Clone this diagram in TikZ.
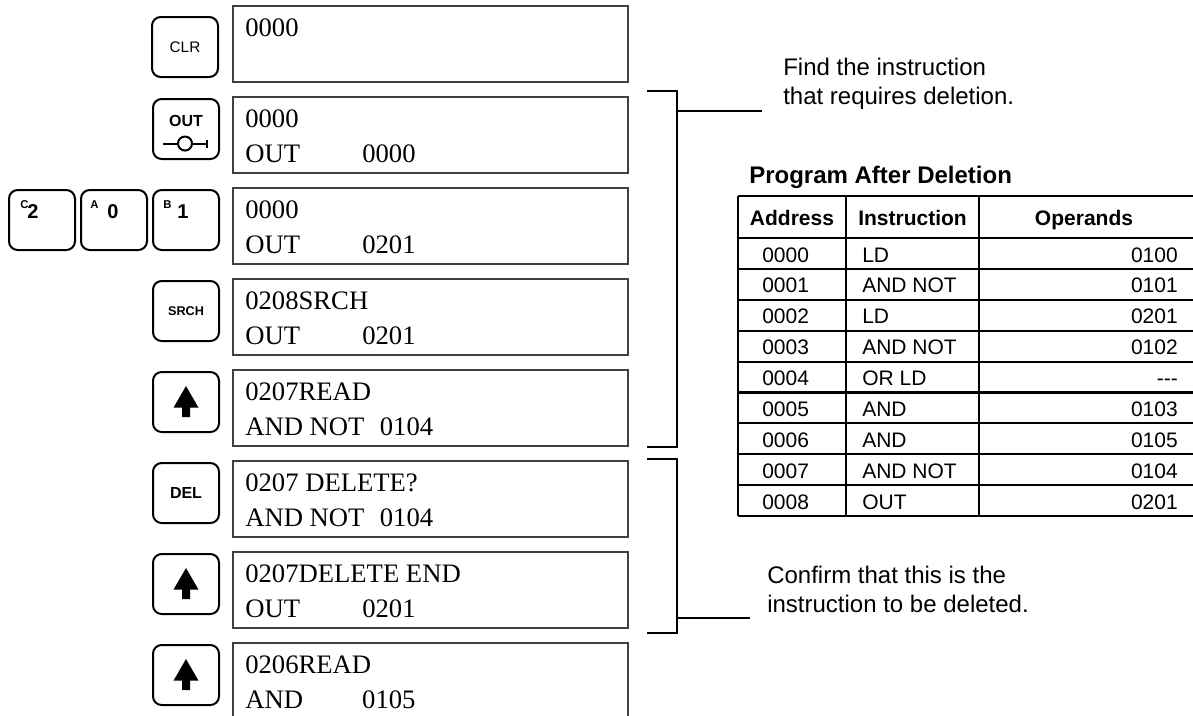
\documentclass[tikz,border=0pt]{standalone}
\usepackage{fontspec}
\setmainfont{Liberation Sans}
\newfontfamily\lcdfont{Liberation Serif}
\usetikzlibrary{positioning}
\newcommand{\lcdcol}[3][87.75pt]{\makebox[#1][l]{#2}#3}
\newcommand{\lcdrows}[3]{%
  \node[lcdtext] (#1top) at ([xshift=9pt,yshift=-22.5pt]#1.north west) {#2};
  \node[lcdtext] (#1bot) at ([xshift=9pt,yshift=-48.75pt]#1.north west) {#3};}
\tikzset{
  keycap/.style={draw,line width=1.5pt,rounded corners=6.5pt,minimum width=49.5pt,
    minimum height=45pt,inner sep=0pt,outer sep=0pt},
  keytext/.style={font=\fontsize{11.5}{13}\selectfont},
  keybold/.style={font=\bfseries\fontsize{12}{14}\selectfont},
  supkey/.style={anchor=north west,inner sep=0pt,font=\bfseries\fontsize{8.5}{10}\selectfont},
  digkey/.style={anchor=base west,inner sep=0pt,font=\bfseries\fontsize{15}{17}\selectfont},
  lcd/.style={draw=black!75,line width=0.8pt,minimum width=296.25pt,minimum height=57pt,
    inner sep=0pt,outer sep=0pt},
  lcdtext/.style={anchor=base west,inner sep=0pt,font=\lcdfont\fontsize{20}{24}\selectfont},
  note/.style={align=left,anchor=base west,inner sep=0pt,font=\fontsize{18}{21.75}\selectfont},
  tabtext/.style={inner sep=0pt,font=\fontsize{15.75}{18}\selectfont},
  tabhead/.style={inner sep=0pt,anchor=base,font=\bfseries\fontsize{15.75}{18}\selectfont},
  rule/.style={line width=1.6pt},
  bracket/.style={line width=1.5pt},
  uparrow/.pic={\fill[line join=round] (0pt,12pt) -- (9.4pt,-4.3pt) -- (3pt,-4.3pt)
    -- (3pt,-11.25pt) -- (-3pt,-11.25pt) -- (-3pt,-4.3pt) -- (-9.4pt,-4.3pt) -- cycle;},
  outsym/.pic={\draw[line width=1.5pt] (-17.25pt,0pt) -- (-6pt,0pt)
    (4.5pt,0pt) -- (15.75pt,0pt) (15.75pt,-3pt) -- (15.75pt,3pt);
    \draw[line width=1.5pt] (-0.75pt,0pt) circle (5.25pt);}
}
\begin{document}
\begin{tikzpicture}[x=0.75pt,y=-0.75pt,node distance=11.25pt]
  \useasboundingbox (0,0) rectangle (1193,715);
  % display column
  \node[lcd,anchor=north west] (d1) at (233,6) {};
  \node[lcd,below=of d1] (d2) {};
  \node[lcd,below=of d2] (d3) {};
  \node[lcd,below=of d3] (d4) {};
  \node[lcd,below=of d4] (d5) {};
  \node[lcd,below=of d5] (d6) {};
  \node[lcd,below=of d6] (d7) {};
  \node[lcd,below=of d7] (d8) {};
  \lcdrows{d1}{0000}{}
  \lcdrows{d2}{0000}{\lcdcol{OUT}{0000}}
  \lcdrows{d3}{0000}{\lcdcol{OUT}{0201}}
  \lcdrows{d4}{0208SRCH}{\lcdcol{OUT}{0201}}
  \lcdrows{d5}{0207READ}{\lcdcol[101pt]{AND NOT}{0104}}
  \lcdrows{d6}{0207 DELETE?}{\lcdcol[101pt]{AND NOT}{0104}}
  \lcdrows{d7}{0207DELETE END}{\lcdcol{OUT}{0201}}
  \lcdrows{d8}{0206READ}{\lcdcol{AND}{0105}}

  % keys
  \node[keycap,keytext,anchor=north west] (kclr) at (152,17) {CLR};
  \node[keycap,anchor=north east] (kout) at ([xshift=-10.5pt,yshift=-1.5pt]d2.north west) {};
  \node[keybold,inner sep=0pt,anchor=base] (koutl) at ([yshift=1.9pt]kout.center) {OUT};
  \pic at ([yshift=-10.9pt]kout.center) {outsym};
  \node[keycap,anchor=north east] (kb) at ([xshift=-10.5pt,yshift=-1.5pt]d3.north west) {};
  \node[keycap,left=4.5pt of kb] (ka) {};
  \node[keycap,left=4.5pt of ka] (kc) {};
  \node[supkey] (kcs) at ([xshift=8.25pt,yshift=-7.5pt]kc.north west) {C};
  \node[digkey] (kcd) at ([xshift=13.5pt,yshift=-21.4pt]kc.north west) {2};
  \node[supkey] (kas) at ([xshift=6.75pt,yshift=-7.5pt]ka.north west) {A};
  \node[digkey] (kad) at ([xshift=19.5pt,yshift=-21.4pt]ka.north west) {0};
  \node[supkey] (kbs) at ([xshift=7.5pt,yshift=-7.5pt]kb.north west) {B};
  \node[digkey] (kbd) at ([xshift=18pt,yshift=-21.4pt]kb.north west) {1};
  \node[keycap,anchor=north east,font=\bfseries\fontsize{9.5}{11}\selectfont] (ksrch)
    at ([xshift=-10.5pt,yshift=-1.5pt]d4.north west) {SRCH};
  \node[keycap,anchor=north east] (kup1) at ([xshift=-10.5pt,yshift=-1.5pt]d5.north west) {};
  \pic at (kup1.center) {uparrow};
  \node[keycap,keybold,anchor=north east] (kdel) at ([xshift=-10.5pt,yshift=-1.5pt]d6.north west) {DEL};
  \node[keycap,anchor=north east] (kup2) at ([xshift=-10.5pt,yshift=-1.5pt]d7.north west) {};
  \pic at (kup2.center) {uparrow};
  \node[keycap,anchor=north east] (kup3) at ([xshift=-10.5pt,yshift=-1.5pt]d8.north west) {};
  \pic at (kup3.center) {uparrow};

  % brackets and notes
  \node[note] (find) at (783,104) {Find the instruction\\that requires deletion.};
  \node[note] (confirm) at (767,612) {Confirm that this is the\\instruction to be deleted.};
  \coordinate (f1) at (647,91);
  \coordinate (f2) at (647,447);
  \coordinate (ftick) at (762,111);
  \draw[bracket] (f1) -- ++(30,0) |- (f2);
  \draw[bracket] (677,111) -- (ftick);
  \coordinate (c1) at (647,459);
  \coordinate (c2) at (647,633);
  \coordinate (ctick) at (750,618);
  \draw[bracket] (c1) -- ++(30,0) |- (c2);
  \draw[bracket] (677,618) -- (ctick);

  % table
  \node[note,font=\bfseries\fontsize{18}{21}\selectfont] (ptitle) at (749,183) {Program After Deletion};
  \draw[rule] (738,196) -- (1193,196);
  \foreach \k in {0,...,9}
    \draw[rule] (738,{238+30.9*\k}) -- (1193,{238+30.9*\k});
  \foreach \x in {738,846,979}
    \draw[rule] (\x,196) -- (\x,516.1);
  \node[tabhead] (hadr) at (792,225) {Address};
  \node[tabhead] (hins) at (912.5,225) {Instruction};
  \node[tabhead] (hopd) at (1084,225) {Operands};
  \foreach \adr/\ins/\opd [count=\i from 0] in {0000/LD/0100, 0001/AND NOT/0101,
      0002/LD/0201, 0003/AND NOT/0102, 0004/OR LD/{-}{-}{-}, 0005/AND/0103,
      0006/AND/0105, 0007/AND NOT/0104, 0008/OUT/0201} {
    \node[tabtext,anchor=base west] (adr\i) at (762,{262+30.9*\i}) {\adr};
    \node[tabtext,anchor=base west] (ins\i) at (862,{262+30.9*\i}) {\ins};
    \node[tabtext,anchor=base east] (opd\i) at (1178,{262+30.9*\i}) {\opd};
  }
\end{tikzpicture}
\end{document}
